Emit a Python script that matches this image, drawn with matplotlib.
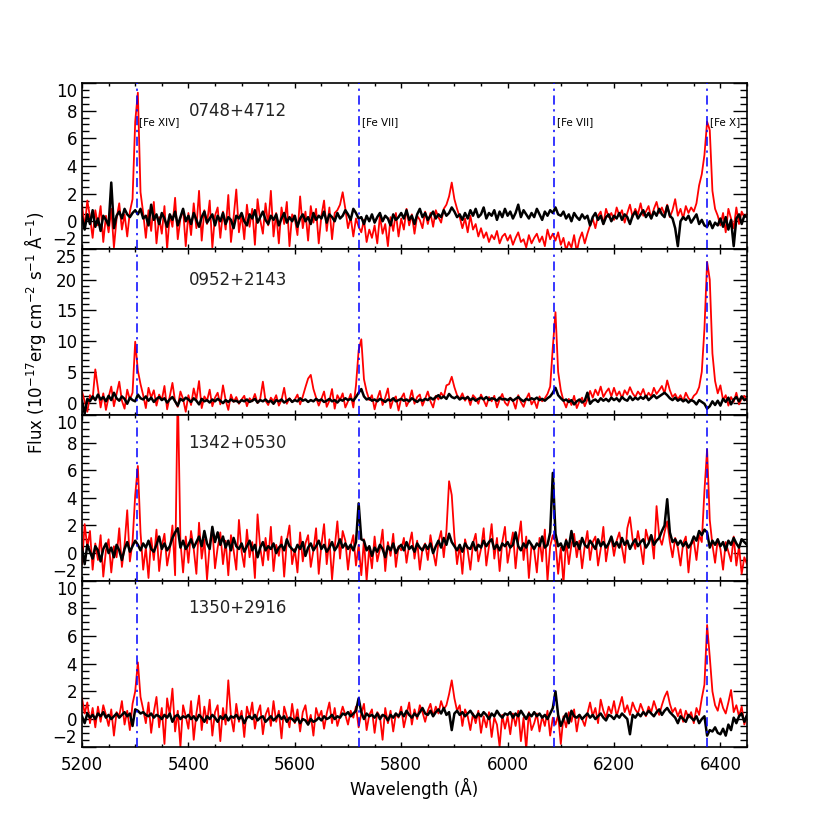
import numpy as np
import matplotlib
matplotlib.use('Agg')
import matplotlib.pyplot as plt
from matplotlib.ticker import MultipleLocator, FixedLocator

# wavelength grid (Angstrom), 5 A sampling from 5200 to 6450
wave = np.arange(5200, 6451, 5)

names = ['0748+4712', '0952+2143', '1342+0530', '1350+2916']
line_waves = [5303, 5721, 6087, 6375]
line_labels = ['[Fe XIV]', '[Fe VII]', '[Fe VII]', '[Fe X]']

# ---------------- panel 1 : 0748+4712 ----------------
r1 = [
 1.2, -0.5, 1.5, 0.3, -1.2, 0.8, -0.3, 1.1, -1.5, 0.4,
 -0.8, 0.9, -1.9, 0.2, 1.3, -0.6, 0.5, -1.1, 0.7, 1.6,
 7.2, 9.3, 2.1, 0.6, -1.2, 0.8, -0.7, 1.4, -1.6, 0.3,
 -0.9, 1.1, -2.0, 0.5, -0.4, 1.7, -1.3, 0.2, 0.9, -1.8,
 0.6, -1.0, 1.3, -0.5, 2.2, -1.4, 0.8, -0.2, 1.5, -1.9,
 0.4, 1.0, -1.2, 0.7, -0.6, 1.9, -1.5, 0.3, 2.3, -0.8,
 0.5, -1.3, 1.2, -0.4, 0.9, -1.7, 1.6, 0.1, -0.9, 1.3,
 -0.3, 2.2, -1.1, 0.6, -1.6, 1.0, -0.2, 1.4, -1.8, 0.5,
 0.2, -1.0, 1.8, -0.5, 0.7, -1.4, 1.1, -0.1, 0.9, -1.6,
 0.4, 1.5, -0.7, 1.0, -1.3, 0.6, 0.8, 1.2, 2.1, 0.9,
 -0.5, 0.3, -1.1, 0.2, -0.4, -0.8, 0.1, -1.5, -0.6, -1.2,
 -0.3, -1.6, 0.4, -0.9, -0.2, -1.8, 0.3, -0.7, 0.6, -1.1,
 0.2, -0.6, 0.9, -0.3, 0.5, -0.9, 0.4, 0.1, -0.5, 0.7,
 -0.2, 0.6, -0.4, 0.8, 0.3, -0.1, 0.9, 1.2, 1.8, 2.8,
 1.6, 0.9, 0.3, -0.5, 0.2, -0.8, 0.4, -0.6, -0.2, -1.1,
 -0.5, -1.2, -0.8, -1.5, -1.0, -1.3, -0.7, -1.6, -1.1, -0.9,
 -1.4, -1.0, -1.7, -1.2, -0.8, -1.5, -1.3, -1.9, -1.0, -1.6,
 -1.2, -0.9, -1.5, -1.1, -1.8, -0.6, -1.3, -0.9, -1.4, -0.8,
 -1.7, -1.2, -2.1, -1.5, -1.9, -1.0, -2.2, -1.3, -0.8, -1.6,
 -0.9, -0.3, 0.2, -0.5, 0.4, 0.7, -0.2, 0.9, 0.3, 0.6,
 0.1, 1.0, 0.4, 0.8, -0.1, 0.6, 1.2, 0.3, 0.9, 0.5,
 1.3, 0.4, 0.7, 1.1, 0.2, 0.9, 1.4, 0.6, 1.0, 0.5,
 1.2, 0.3, 0.8, 1.6, 0.4, 0.9, 0.2, 1.1, 0.6, 1.0,
 0.7, 1.3, 2.6, 3.4, 4.8, 7.2, 6.6, 2.2, 0.9, 0.4,
 -0.3, 0.6, -0.8, 0.9, 0.2, -0.5, 1.0, -0.2, 0.7, 0.3,
 0.5]
k1 = [
 0.3, -0.6, 0.5, -0.2, 0.8, -0.4, 0.2, -0.7, 0.4, 0.1,
 -0.3, 2.8, -0.5, 0.4, 0.7, 0.2, 0.9, 0.5, 0.3, 0.6,
 0.8, 0.5, 0.9, 0.2, 0.4, -0.3, 1.2, 0.1, 0.5, -0.2,
 0.6, 0.2, -0.4, 0.5, 0.1, 0.7, -0.3, 0.3, 0.9, 0.0,
 0.4, -0.2, 0.6, 0.1, -0.4, 0.3, 0.7, -0.1, 0.2, 0.5,
 -0.3, 0.4, 0.0, 0.6, -0.2, 0.3, 0.1, -0.5, 0.4, 0.2,
 0.6, 0.0, -0.3, 0.5, 0.2, 0.8, -0.1, 0.3, 0.7, 0.1,
 -0.2, 0.4, 0.1, 0.5, -0.3, 0.2, 0.6, -0.1, 0.3, 0.0,
 0.4, -0.4, 0.2, 0.5, 0.0, 0.3, -0.2, 0.6, 0.1, 0.4,
 0.2, 0.7, -0.1, 0.5, 0.3, 0.0, 0.6, 0.2, 0.4, 0.8,
 0.5, 0.1, 0.9, 0.6, 0.2, 0.3, -0.2, 0.4, 0.0, 0.5,
 -0.1, 0.3, 0.6, 0.0, 0.4, 0.2, -0.3, 0.5, 0.1, 0.3,
 0.6, 0.2, 0.8, 0.1, 0.4, -0.2, 0.5, 0.9, 0.3, 0.6,
 0.1, 0.4, 0.7, 0.2, 0.5, 0.3, 0.8, 0.4, 0.6, 1.0,
 0.7, 0.3, 0.5, 0.1, 0.6, 0.2, 0.8, 0.4, 0.9, 0.3,
 0.5, 1.0, 0.2, 0.6, 0.4, 0.8, 0.1, 0.7, 0.3, 0.9,
 0.4, 0.7, 0.2, 0.6, 1.2, 0.3, 0.8, 0.5, 0.2, 0.6,
 0.3, 0.9, 0.5, 0.1, 0.7, 0.4, 0.8, 0.6, 1.0, 0.5,
 0.4, 0.7, 0.2, 0.5, 0.0, 0.6, 0.3, 0.1, 0.5, 0.2,
 0.4, -0.3, 0.3, 0.6, 0.1, 0.4, -0.2, 0.3, 0.5, 0.0,
 0.4, 0.2, 0.6, 0.1, 0.5, 0.3, -0.2, 0.4, 0.7, 0.2,
 0.5, 0.8, 0.3, 0.6, 0.2, 0.7, 0.4, 0.9, 0.5, 0.3,
 1.1, 0.4, 0.2, -0.5, -1.8, 0.0, 0.3, 0.1, 0.4, -0.1,
 0.2, 0.5, -0.2, 0.1, -0.3, -0.4, 0.0, -0.5, -0.1, -0.3,
 0.2, -0.4, 0.3, -0.6, 0.1, -1.8, 0.2, 0.5, -0.2, 0.4,
 0.3]

# ---------------- panel 2 : 0952+2143 ----------------
r2 = [
 1.8, 0.2, -1.5, 1.2, 0.6, 5.4, 2.3, -0.8, 1.5, -1.2,
 0.9, 2.6, -0.6, 1.4, 3.4, 0.3, -1.0, 2.1, 0.5, 1.6,
 9.9, 5.2, 3.0, 1.2, -0.9, 2.4, 0.8, 2.0, -0.5, 1.3,
 0.4, 2.7, -1.1, 1.0, 3.2, 0.2, -0.7, 1.8, 0.6, -1.5,
 1.2, -0.4, 2.3, 0.5, 3.5, -0.9, 1.0, 0.3, 2.1, -0.6,
 0.8, 1.6, -0.3, 2.8, 0.4, -1.2, 1.3, 0.1, 0.9, -0.2,
 0.5, 1.1, -0.6, 0.7, 0.2, 1.4, -0.1, 0.6, 3.4, 0.3,
 -0.4, 0.8, 0.2, 1.2, -0.5, 0.4, 2.4, -0.2, 0.7, 0.1,
 0.5, 1.3, -0.3, 1.0, 2.5, 3.9, 4.5, 2.2, 0.8, -0.5,
 0.6, 1.8, -0.7, 0.3, 2.2, -1.0, 1.2, 0.4, 1.5, -0.8,
 0.2, 1.4, -0.8, 2.8, 8.5, 10.3, 3.8, 1.8, 0.4, 1.2,
 -1.1, 0.6, 1.9, -0.4, 0.8, 2.3, -0.9, 0.5, 1.0, -1.3,
 0.7, 1.5, -0.6, 0.3, 2.0, -0.2, 0.9, 1.3, -0.5, 0.6,
 1.8, 0.2, -0.8, 1.1, 0.5, 1.6, 0.9, 2.8, 3.0, 4.2,
 2.5, 1.2, 0.6, 1.5, 0.3, 1.0, -0.4, 1.2, 0.7, -0.2,
 1.3, 0.4, -0.6, 0.9, 0.2, 1.1, -0.8, 0.5, 1.4, 0.0,
 -0.5, 0.8, 0.3, -1.0, 1.2, 0.1, -0.7, 0.6, 1.5, -0.3,
 0.4, -0.9, 1.0, 0.2, 0.7, 1.4, 2.6, 9.0, 14.7, 5.0,
 2.0, 0.3, -0.8, 0.6, -0.4, 1.1, -0.9, 0.2, 0.8, -0.6,
 0.5, 1.9, 0.8, 2.1, 1.2, 2.6, 0.9, 1.7, 2.3, 1.0,
 2.4, 1.1, 1.8, 0.7, 2.0, 1.3, 2.5, 1.5, 0.9, 1.8,
 1.2, 2.2, 0.8, 1.6, 1.0, 2.4, 1.4, 2.0, 2.7, 1.5,
 3.6, 2.0, 0.9, 1.4, 0.5, 1.2, 0.2, 1.6, 0.7, 0.3,
 1.1, 1.5, 2.5, 5.0, 12.0, 22.9, 20.0, 8.0, 3.5, 1.5,
 2.8, 0.4, 1.2, -0.5, 0.9, 0.1, 1.6, -0.3, 0.7, 1.1,
 0.2]
k2 = [
 0.3, -1.8, 0.6, 0.2, 1.0, 0.4, 1.3, 0.5, 0.9, 0.2,
 1.1, 0.4, 1.6, 0.7, 0.3, 1.0, 0.6, -0.2, 0.8, 0.4,
 0.2, 1.3, 0.7, 0.5, 1.0, 0.3, 0.8, 0.1, 0.6, 0.9,
 0.4, 0.7, 0.0, 0.5, 0.9, 0.2, -0.5, 0.6, 0.3, 0.8,
 0.5, 0.1, 0.7, 0.3, -0.3, 0.6, 0.2, 0.4, 0.0, 0.5,
 0.2, 0.6, 0.3, -0.1, 0.4, 0.1, 0.5, 0.2, 0.3, 0.0,
 0.4, 0.2, 0.5, 0.1, 0.3, 0.6, 0.0, 0.4, 0.2, 0.5,
 0.1, 0.3, -0.2, 0.4, 0.2, 0.5, 0.0, 0.3, 0.6, 0.1,
 0.4, 0.2, 0.7, 0.3, 0.5, 0.1, 0.4, 0.2, 0.6, 0.3,
 0.5, 0.1, 0.3, 0.6, 0.2, 0.4, 0.0, 0.5, 0.3, 0.7,
 0.4, 0.6, 0.3, 0.9, 1.6, 2.2, 1.0, 0.5, 0.7, 0.3,
 0.5, 0.2, 0.6, 0.4, 0.1, 0.5, 0.3, 0.7, 0.2, 0.4,
 0.6, 0.3, 0.5, 0.2, 0.7, 0.4, 0.1, 0.5, 0.3, 0.6,
 0.4, 0.8, 0.5, 0.9, 1.2, 0.7, 1.0, 0.6, 1.4, 0.9,
 0.7, 1.0, 0.5, 0.8, 0.6, 0.9, 0.4, 0.7, 0.3, 0.6,
 0.8, 0.5, 0.9, 0.4, 0.7, 0.6, 0.3, 0.8, 0.5, 0.6,
 0.4, 0.7, 0.3, 0.6, 0.9, 0.5, 0.2, 0.6, 0.4, 0.7,
 0.5, 0.8, 0.4, 0.6, 0.3, 0.7, 1.0, 1.6, 2.4, 1.2,
 0.7, 0.3, 0.5, 0.1, 0.4, -0.3, 0.2, 0.5, 0.0, 0.3,
 1.6, -0.2, 0.3, 0.5, 0.1, 0.7, 0.3, 0.6, 0.2, 0.8,
 0.4, 0.7, 0.2, 0.9, 0.5, 0.3, 1.0, 0.4, 0.8, 0.5,
 0.9, 0.6, 1.1, 0.4, 0.8, 1.2, 0.7, 1.0, 1.3, 1.6,
 1.2, 0.7, 0.4, 0.8, 0.3, 0.6, 0.2, 0.5, 0.0, 0.4,
 0.2, -0.3, 0.4, 0.1, -0.2, -1.0, -0.6, 0.2, -0.4, 0.3,
 -0.5, 0.6, 0.1, 0.8, -0.3, 0.5, 0.9, 0.2, 1.0, 0.4,
 0.6]

# ---------------- panel 3 : 1342+0530 ----------------
r3 = [
 -0.8, 2.1, 0.4, 1.6, -1.2, 0.7, -0.5, 1.3, -1.7, 0.2,
 1.0, -1.4, 0.5, -0.3, 1.8, -1.0, 0.6, 3.1, -0.6, 0.8,
 4.2, 6.3, 1.5, -1.2, 0.4, -1.8, 1.1, -0.5, 1.7, -1.3,
 0.5, 1.4, -0.9, 0.2, 2.0, -1.6, 12.0, 0.8, -1.4, 1.2,
 -0.7, 1.6, 0.3, -1.5, 2.2, -0.4, 1.0, -1.9, 0.6, 1.8,
 -1.1, 0.4, 1.5, -0.8, 0.9, -1.6, 1.3, 0.2, -1.2, 2.4,
 0.1, -1.0, 1.7, -0.3, 0.8, -1.8, 2.8, 0.4, -0.9, 1.1,
 -0.5, 1.9, -1.3, 0.6, -0.2, 1.2, -1.7, 0.9, 2.0, -0.8,
 0.3, -1.4, 1.5, -0.6, 0.7, 1.3, -1.0, 0.2, 1.8, -1.5,
 0.6, 2.1, -0.8, 1.0, -1.9, 0.4, 2.3, -0.4, 1.6, 0.9,
 -1.2, 0.5, 1.3, -0.9, 0.6, -1.6, 1.0, -2.0, 0.4, -1.1,
 1.2, -0.6, 0.3, 1.7, -1.3, 0.8, -0.2, 1.4, -1.0, 0.5,
 0.2, 1.1, -0.7, 0.6, 1.5, -0.4, 0.9, -1.2, 0.3, 0.7,
 -0.5, 1.3, 0.1, -0.9, 0.8, 1.6, -0.3, 1.6, 5.2, 4.2,
 1.2, -0.8, 0.6, -1.5, 1.0, 0.2, -1.2, 0.7, 1.4, -0.6,
 0.3, 1.8, -0.9, 0.5, 2.1, -0.4, 1.1, -1.3, 0.8, 1.9,
 -0.7, 0.4, 1.5, -1.1, 0.9, 2.3, -0.5, 1.2, -1.8, 0.6,
 0.2, -1.4, 1.1, -0.6, 1.7, -2.0, 0.5, 1.3, 0.8, -1.5,
 0.4, -2.2, 1.0, -0.8, 0.6, 1.4, -0.3, 0.9, -1.1, 0.5,
 1.6, -0.5, 0.8, 1.2, -0.9, 0.3, 1.9, -0.6, 0.7, 1.1,
 -0.2, 0.9, 1.5, 0.4, -0.7, 1.8, 2.6, 1.0, 0.3, 1.6,
 0.5, -0.8, 1.7, 0.9, 1.3, -0.4, 3.4, 1.2, 0.6, 1.5,
 2.3, 0.8, -0.3, 1.1, 0.4, -0.9, 0.7, 1.2, -1.4, 0.6,
 0.9, -0.5, 1.3, 0.8, 4.5, 7.5, 2.4, 0.6, -0.7, 1.0,
 0.3, -1.2, 0.8, 0.1, -0.6, 1.2, -0.9, 0.5, -1.5, -0.3,
 -0.8]
k3 = [
 0.4, -0.8, 0.6, 0.1, -0.4, 0.5, 0.2, -0.6, 0.3, 0.7,
 0.0, 0.4, -0.3, 0.6, 0.2, -0.5, 0.3, 0.8, 0.1, 0.5,
 0.9, 0.6, 0.2, 0.7, 0.4, 0.9, 0.3, 0.1, 0.6, 1.2,
 0.3, 0.7, 0.2, 0.5, 1.1, 1.5, 1.8, 0.4, 0.9, 0.3,
 0.6, 1.0, 0.4, 0.8, 1.2, 0.5, 1.6, 0.7, 0.3, 1.9,
 0.8, 1.5, 0.6, 1.2, 0.4, 0.9, 0.2, 1.1, 0.5, 0.3,
 0.7, 0.1, 0.5, 0.9, 0.2, 0.6, -0.3, 0.4, 0.8, 0.2,
 0.5, 0.3, 0.7, 0.0, 0.4, 0.6, 0.2, 1.0, 0.5, 0.3,
 0.1, 0.6, 0.3, 0.8, -0.2, 0.4, 0.7, 0.2, 0.5, 0.9,
 0.3, 0.6, 0.1, 0.4, 0.8, 0.2, 0.5, 1.0, 0.4, 0.7,
 0.3, 0.6, 0.2, 0.8, 3.6, 1.0, 0.9, 0.2, 0.5, -0.2,
 0.4, 0.1, 0.6, 0.3, -0.3, 0.5, 0.2, 0.7, 0.0, 0.4,
 0.6, 0.2, 0.8, 0.3, 0.5, 0.1, 0.7, 0.4, 0.2, 0.6,
 0.3, 0.7, 0.0, 0.5, 0.9, 0.4, 1.1, 0.6, 1.4, 0.8,
 0.5, 0.2, 0.6, 0.1, 0.7, 0.4, 0.3, 0.8, 0.2, 0.6,
 0.4, 0.9, 0.5, 0.8, 1.0, 0.3, 0.6, 0.2, 0.7, 0.5,
 0.8, 0.4, 0.6, 1.5, 0.5, 0.2, 0.7, 0.4, 0.9, 0.6,
 0.3, 0.7, 0.5, 1.2, 0.4, 0.6, 1.5, 5.8, 1.4, 0.5,
 0.7, 0.2, 0.9, 0.4, 1.6, 0.5, 0.8, 0.3, 1.1, 0.6,
 0.4, 0.9, 0.6, 0.3, 1.0, 0.5, 0.8, 0.4, 0.7, 1.2,
 0.5, 0.8, 0.4, 1.1, 0.6, 0.9, 0.3, 0.7, 1.0, 0.5,
 0.8, 1.0, 0.4, 0.7, 1.3, 0.6, 0.9, 1.1, 1.6, 2.0,
 3.9, 1.5, 0.8, 1.0, 0.6, 0.9, 0.5, 0.8, 0.4, 0.7,
 1.2, 0.9, 1.6, 1.3, 1.7, 1.5, 0.4, 0.9, 0.6, 1.0,
 0.5, 0.8, 0.2, 0.9, 0.6, 1.1, 0.7, 0.4, 1.0, 0.8,
 0.6]

# ---------------- panel 4 : 1350+2916 ----------------
r4 = [
 1.5, 0.4, 1.2, -0.3, 0.8, -0.6, 0.9, -0.2, 1.0, 0.3,
 -0.5, 0.7, -1.2, 0.5, 0.2, 1.3, -0.4, 0.6, -0.8, 1.1,
 2.0, 4.1, 1.6, 0.7, -0.3, 1.2, -1.0, 0.5, 1.6, -0.6,
 0.8, -1.8, 1.5, 0.3, 2.2, -0.9, 0.6, -2.0, 1.0, 0.2,
 -0.7, 1.3, -1.5, 0.4, 1.7, -0.8, 0.9, -0.3, 1.4, -1.2,
 0.5, 1.0, -1.6, 0.8, -0.4, 2.8, 0.2, -0.9, 1.1, -0.2,
 0.6, -1.3, 0.9, 0.1, 1.2, -0.7, 0.4, 1.0, -1.1, 0.3,
 0.8, -0.5, 1.3, -0.2, 0.6, -1.4, 0.9, 0.2, -0.6, 1.1,
 -0.3, 0.7, -0.9, 0.5, 1.0, -0.4, 0.3, -1.2, 0.8, 0.1,
 0.6, -0.7, 0.4, 1.2, -0.3, 0.8, -0.5, 0.2, 0.9, 0.3,
 -0.4, 0.6, 0.1, 0.9, -0.6, 0.4, 1.1, -0.8, 0.3, 0.7,
 -1.0, 0.5, 0.2, -1.5, 0.8, -0.3, 0.6, -0.9, 0.4, 0.1,
 0.9, -0.6, 0.3, 1.2, -0.4, 0.7, 0.0, 1.0, 0.5, -0.2,
 0.6, 1.1, 0.2, 0.9, 0.4, 1.3, 0.7, 1.0, 1.8, 2.8,
 1.5, 0.6, 1.0, -0.5, 0.7, 0.2, -0.8, 0.4, -0.3, 0.6,
 -1.0, 0.2, -0.6, 0.5, -1.3, 0.1, -0.4, -2.0, 0.3, -0.7,
 0.2, -1.1, 0.4, -0.5, 0.6, -1.6, 0.1, -2.2, 0.5, -0.8,
 -0.3, 0.4, -0.9, 0.2, -0.5, 0.6, -1.2, 0.1, -0.4, 0.3,
 -1.8, 0.2, -0.6, 0.5, -0.2, 0.7, -0.9, 0.3, 0.0, -0.5,
 0.4, 1.2, 0.2, 0.8, -0.3, 1.4, 0.6, 0.1, 0.9, 0.4,
 1.3, 0.2, 0.9, 1.6, 0.5, 1.0, 0.3, 1.2, 0.7, 0.4,
 1.1, 0.6, 0.2, 0.9, 0.5, 1.3, 0.7, 0.3, 1.0, 1.6,
 2.0, 1.1, 0.5, 0.8, 0.2, 0.7, -0.2, 0.6, 0.1, 0.5,
 -0.3, 0.8, 0.3, 1.5, 2.5, 6.8, 4.5, 2.0, 1.0, 0.6,
 1.5, 0.8, 0.4, 1.2, 2.1, 0.5, 1.0, 0.2, 0.9, -0.4,
 0.3]
k4 = [
 0.2, -0.3, 0.4, 0.1, 0.3, 0.0, 0.4, 0.2, 0.5, 0.1,
 0.3, 0.0, 0.2, 0.4, 0.1, 0.3, 0.5, 0.2, 0.4, -0.5,
 0.7, 0.6, 0.4, 0.5, 0.3, 0.2, 0.4, 0.1, 0.3, 0.2,
 0.0, 0.3, 0.1, 0.4, -0.2, 0.2, 0.3, 0.0, 0.2, 0.1,
 0.3, 0.0, 0.2, -0.1, 0.3, 0.1, -0.2, 0.2, 0.0, 0.3,
 0.1, -0.2, 0.2, 0.0, 0.3, -0.1, 0.2, 0.1, 0.3, 0.0,
 0.2, -0.3, 0.1, 0.2, 0.0, 0.3, -0.1, 0.1, 0.2, -0.2,
 0.0, 0.2, -0.1, 0.1, 0.3, 0.0, 0.2, -0.2, 0.1, 0.0,
 -0.2, 0.1, -0.3, 0.0, -0.1, -0.4, 0.0, -0.2, -0.1, 0.1,
 -0.1, 0.2, 0.0, 0.1, 0.3, 0.0, 0.2, 0.1, 0.4, 0.3,
 0.5, 0.2, 0.4, 0.6, 1.5, 0.5, 0.0, 0.4, 0.2, 0.3,
 0.1, 0.4, 0.0, 0.3, 0.2, -0.1, 0.3, 0.1, 0.4, 0.2,
 0.5, 0.2, 0.6, 0.3, 0.1, 0.4, 0.2, 0.5, 0.8, 0.4,
 0.3, 0.6, 0.2, 0.5, 0.7, 0.4, 0.8, 0.3, 0.5, -0.8,
 0.4, 0.6, 0.3, 0.5, 0.2, 0.4, 0.6, 0.3, 0.1, 0.4,
 0.2, 0.5, 0.3, 0.0, 0.4, 0.2, 0.6, 0.3, 0.1, 0.4,
 0.3, 0.5, 0.1, 0.4, 0.2, 0.6, 0.3, 0.0, 0.4, 0.2,
 0.5, 0.2, 0.4, 0.1, 0.3, 0.0, 0.4, 0.8, 2.0, 0.3,
 -0.5, 0.0, 0.4, -0.3, 0.6, 0.2, 0.1, 0.3, 0.0, 0.2,
 0.4, 0.1, 0.3, 0.0, 0.2, 0.4, 0.1, -0.1, 0.3, 0.2,
 0.0, 0.3, 0.1, 0.4, 0.2, 0.0, -1.1, 0.3, 0.1, 0.4,
 0.2, 0.5, 0.3, 0.6, 0.4, 0.2, 0.5, 0.7, 0.3, 0.6,
 0.8, 0.5, 0.3, 0.1, -0.3, 0.2, 0.0, -0.2, 0.3, 0.1,
 -0.1, 0.2, -0.3, 0.0, 0.2, -1.2, -0.8, -0.9, -0.6, -1.0,
 -1.1, -0.7, -1.2, -0.4, -0.8, 0.1, -0.3, 0.2, 0.4, -0.2,
 0.3]

red_series = [r1, r2, r3, r4]
black_series = [k1, k2, k3, k4]
ylims = [(-2, 10), (-2, 25), (-2, 10), (-2, 10)]
ymajor = [2, 5, 2, 2]
yminor = [0.5, 1, 0.5, 0.5]
name_y = [8, 20, 8, 8]

plt.rcParams['font.family'] = ['DejaVu Sans']
fig = plt.figure(figsize=(8.3, 8.3), dpi=100)

left, width = 82 / 830, (747 - 82) / 830
top_px = 83.0
h_px = (746.7 - 83.0) / 4

for i in range(4):
    y0 = 1 - (top_px + (i + 1) * h_px) / 830
    ax = fig.add_axes([left, y0, width, h_px / 830])
    ax.plot(wave, red_series[i], color='red', lw=1.3, zorder=2)
    ax.plot(wave, black_series[i], color='black', lw=1.8, zorder=3)
    for lw_ in line_waves:
        ax.axvline(lw_, color='blue', lw=1.1, ls=(0, (6, 3, 1.5, 3)), zorder=4)
    ax.set_xlim(5200, 6450)
    ax.set_ylim(*ylims[i])
    lo, hi = ylims[i]
    start = np.ceil(lo / ymajor[i]) * ymajor[i]
    ticks = np.arange(start, hi + 0.001, ymajor[i])
    ax.yaxis.set_major_locator(FixedLocator(ticks))
    ax.yaxis.set_minor_locator(MultipleLocator(yminor[i]))
    ax.xaxis.set_major_locator(MultipleLocator(200))
    ax.xaxis.set_minor_locator(MultipleLocator(50))
    ax.tick_params(axis='both', which='both', direction='in', top=True, right=True, width=1.0)
    ax.tick_params(axis='y', which='major', length=10, labelsize=12)
    ax.tick_params(axis='y', which='minor', length=5)
    ax.tick_params(axis='x', which='major', length=3.5, labelsize=12, pad=7)
    ax.tick_params(axis='x', which='minor', length=2)
    for sp in ax.spines.values():
        sp.set_linewidth(1.2)
    if i < 3:
        ax.set_xticklabels([])
    ax.text(5400, name_y[i], names[i], fontsize=12, ha='left', va='center', color='#222222')
    yt = ax.yaxis.get_major_ticks()
    if ticks[0] == lo:
        yt[0].label1.set_verticalalignment('bottom')
    yt[-1].label1.set_verticalalignment('top')
    if i == 0:
        for lw_, lab in zip(line_waves, line_labels):
            ax.text(lw_ + 5, 7.2, lab, fontsize=7.5, ha='left', va='center')

fig.text(0.042, 1 - 333 / 830, r'Flux (10$^{-17}$erg cm$^{-2}$ s$^{-1}$ $\mathrm{\AA}^{-1}$)',
         rotation=90, ha='center', va='center', fontsize=12)
fig.text(414 / 830, 1 - 788 / 830, 'Wavelength (Å)', ha='center', va='center', fontsize=12)

fig.savefig('out.png', dpi=100)
